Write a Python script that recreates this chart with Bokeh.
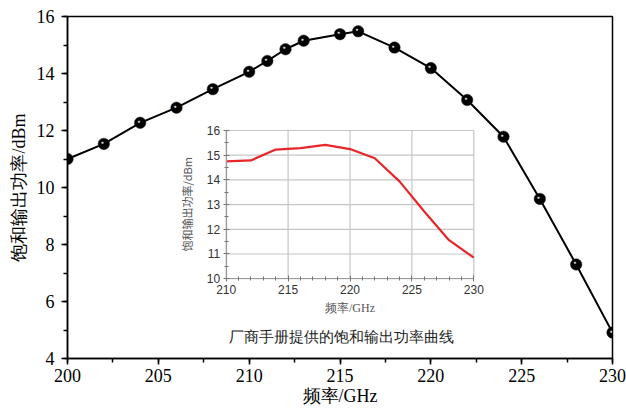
from bokeh.plotting import figure
from bokeh.models import Range1d, LinearAxis, SingleIntervalTicker, Label
from bokeh.embed import file_html
from bokeh.resources import INLINE
from bokeh.core.properties import value

# ---- main chart data (measured) ----
freq_main = [200, 202, 204, 206, 208, 210, 211, 212, 213, 215, 216, 218, 220, 222, 224, 226, 228, 230]
pout_main = [11.0, 11.53, 12.27, 12.80, 13.45, 14.06, 14.44, 14.85, 15.15, 15.38, 15.48, 14.91,
             14.19, 13.07, 11.78, 9.6, 7.30, 4.91]

# ---- inset (manufacturer datasheet) data ----
freq_inset = [210, 212, 214, 216, 218, 220, 222, 224, 226, 228, 230]
pout_inset = [14.75, 14.79, 15.23, 15.29, 15.42, 15.25, 14.88, 13.94, 12.72, 11.56, 10.85]
inset_xticks = [210, 215, 220, 225, 230]
inset_yticks = [10, 11, 12, 13, 14, 15, 16]

x_label = "频率/GHz"
y_label = "饱和输出功率/dBm"
caption = "厂商手册提供的饱和输出功率曲线"

SERIF = "Liberation Serif"
SANS = "Liberation Sans"

p = figure(width=626, height=408, x_range=Range1d(200, 230), y_range=Range1d(4, 16),
           output_backend="svg", toolbar_location=None,
           min_border_left=67, min_border_right=14, min_border_top=16, min_border_bottom=48)
p.grid.visible = False
p.outline_line_color = "black"
p.outline_line_width = 1.5
p.background_fill_color = "white"
p.border_fill_color = "white"

for ax in (p.xaxis[0], p.yaxis[0]):
    ax.axis_line_width = 1.5
    ax.axis_line_color = "black"
    ax.major_tick_line_width = 1.5
    ax.minor_tick_line_width = 1.5
    ax.major_tick_in = 0
    ax.major_tick_out = 6
    ax.minor_tick_in = 0
    ax.minor_tick_out = 4
    ax.major_label_text_font = SERIF
    ax.major_label_text_font_size = "18px"
    ax.major_label_text_color = "black"
    ax.axis_label_text_font = SERIF
    ax.axis_label_text_font_size = "18px"
    ax.axis_label_text_font_style = "normal"
    ax.axis_label_text_color = "black"

p.xaxis[0].ticker = SingleIntervalTicker(interval=5, num_minor_ticks=2)
p.yaxis[0].ticker = SingleIntervalTicker(interval=2, num_minor_ticks=2)
p.xaxis[0].axis_label = x_label
p.yaxis[0].axis_label = y_label
p.xaxis[0].major_label_standoff = 4
p.xaxis[0].axis_label_standoff = 1
p.yaxis[0].major_label_standoff = 7
p.yaxis[0].axis_label_standoff = 5

# ---- inset ranges (inset frame placed as fraction of the main frame) ----
fx0, fx1 = 0.2912, 0.7455
fy0, fy1 = 0.2334, 0.6666
xspan = (inset_xticks[-1] - inset_xticks[0]) / (fx1 - fx0)
xs0 = inset_xticks[0] - fx0 * xspan
yspan = (inset_yticks[-1] - inset_yticks[0]) / (fy1 - fy0)
ys0 = inset_yticks[0] - fy0 * yspan
p.extra_x_ranges = {"ix": Range1d(xs0, xs0 + xspan)}
p.extra_y_ranges = {"iy": Range1d(ys0, ys0 + yspan)}

GRID = "#c6c6c6"
p.segment(x0=inset_xticks, y0=[inset_yticks[0]] * len(inset_xticks),
          x1=inset_xticks, y1=[inset_yticks[-1]] * len(inset_xticks),
          x_range_name="ix", y_range_name="iy", line_color=GRID, line_width=1.2)
p.segment(x0=[inset_xticks[0]] * len(inset_yticks), y0=inset_yticks,
          x1=[inset_xticks[-1]] * len(inset_yticks), y1=inset_yticks,
          x_range_name="ix", y_range_name="iy", line_color=GRID, line_width=1.2)

p.line(freq_inset, pout_inset, x_range_name="ix", y_range_name="iy",
       line_color="#e8262a", line_width=2.2)

ixa = LinearAxis(x_range_name="ix", y_range_name="iy", fixed_location=inset_yticks[0],
                 bounds=(inset_xticks[0], inset_xticks[-1]),
                 ticker=SingleIntervalTicker(interval=5, num_minor_ticks=5))
iya = LinearAxis(x_range_name="ix", y_range_name="iy", fixed_location=inset_xticks[0],
                 bounds=(inset_yticks[0], inset_yticks[-1]),
                 ticker=SingleIntervalTicker(interval=1, num_minor_ticks=2))
for ax in (ixa, iya):
    ax.axis_line_color = "#9a9a9a"
    ax.axis_line_width = 1.2
    ax.major_tick_line_color = "#777777"
    ax.minor_tick_line_color = "#777777"
    ax.major_tick_in = 3
    ax.major_tick_out = 3
    ax.minor_tick_in = 2
    ax.minor_tick_out = 2
    ax.major_label_text_font = SANS
    ax.major_label_text_font_size = "12px"
    ax.major_label_text_color = "#333333"
    ax.axis_label_text_font_style = "normal"
    ax.axis_label_text_color = "#555555"
ixa.axis_label = x_label
ixa.axis_label_text_font = SERIF
ixa.axis_label_text_font_size = "12px"
ixa.major_label_standoff = 3
ixa.axis_label_standoff = 4
iya.axis_label = y_label
iya.axis_label_text_font = "Noto Sans CJK SC"
iya.axis_label_text_font_size = "11px"
iya.major_label_standoff = 3
iya.axis_label_standoff = 9
p.add_layout(ixa, "below")
p.add_layout(iya, "left")

p.add_layout(Label(x=sum(inset_xticks) / len(inset_xticks), y=inset_yticks[0],
                   x_range_name="ix", y_range_name="iy", text=caption,
                   text_align="center", text_baseline="middle", x_offset=-9, y_offset=-58,
                   text_font=SERIF, text_font_size="14.5px", text_color="#222222"))

# ---- main curve ----
p.line(freq_main, pout_main, line_color="black", line_width=2)
p.scatter(freq_main, pout_main, size=11.5, fill_color="black", line_color="#222222", line_width=0.5)
p.text(freq_main, pout_main, text=["●"] * len(freq_main), text_font_size="5px",
       text_color="#d8d8d8", text_align="center", text_baseline="middle",
       x_offset=-1.5, y_offset=-2)

open("out.html", "w").write(file_html(p, INLINE))
